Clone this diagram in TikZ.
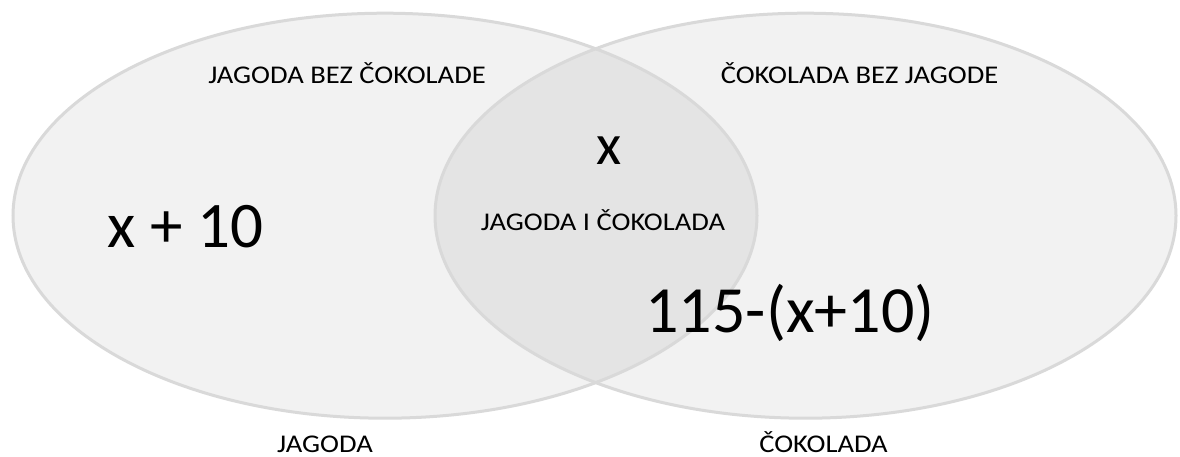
\documentclass[tikz,border=0pt]{standalone}
\usepackage{fontspec}
\setmainfont{Carlito}
\usepackage{graphicx}
\definecolor{setfill}{HTML}{F2F2F2}
\definecolor{setline}{HTML}{D9D9D9}
\definecolor{lensfill}{HTML}{E4E4E4}
% small captions are set a little wider than the plain font
\newcommand{\captxt}[1]{\fontsize{25.5}{29}\selectfont\scalebox{1.12}[1]{#1}}
\begin{document}
\begin{tikzpicture}[x=1pt,y=-1pt,
  setoutline/.style={draw=setline,line width=3pt},
  lbl/.style={inner sep=0pt,anchor=base,text=black},
  bigtxt/.style={lbl,font=\fontsize{65}{70}\selectfont},
]
\useasboundingbox (0,0) rectangle (1180,457);
\fill[white] (0,0) rectangle (1180,457);

% the two sets
\fill[setfill] (385,215.7) ellipse [x radius=372pt,y radius=202.5pt];
\fill[setfill] (805.5,215.7) ellipse [x radius=370.5pt,y radius=202.5pt];
% their intersection
\begin{scope}
  \clip (385,215.7) ellipse [x radius=372pt,y radius=202.5pt];
  \fill[lensfill] (805.5,215.7) ellipse [x radius=370.5pt,y radius=202.5pt];
\end{scope}
\draw[setoutline] (385,215.7) ellipse [x radius=372pt,y radius=202.5pt];
\draw[setoutline] (805.5,215.7) ellipse [x radius=370.5pt,y radius=202.5pt];

% region captions
\node[lbl] (onlyA) at (347,83.5) {\captxt{JAGODA BEZ ČOKOLADE}};
\node[lbl] (onlyB) at (859.5,83.5) {\captxt{ČOKOLADA BEZ JAGODE}};
\node[lbl] (both) at (603,230) {\captxt{JAGODA I ČOKOLADA}};
\node[lbl] (setA) at (325,452) {\captxt{JAGODA}};
\node[lbl] (setB) at (823.5,452) {\captxt{ČOKOLADA}};

% counts
\node[lbl,font=\fontsize{58}{62}\selectfont] (nboth) at (609.5,165) {x};
\node[bigtxt] (nA) at (185.5,247) {x + 10};
\node[bigtxt,font=\fontsize{66}{70}\selectfont] (nB) at (790,332) {115-(x+10)};
\end{tikzpicture}
\end{document}
